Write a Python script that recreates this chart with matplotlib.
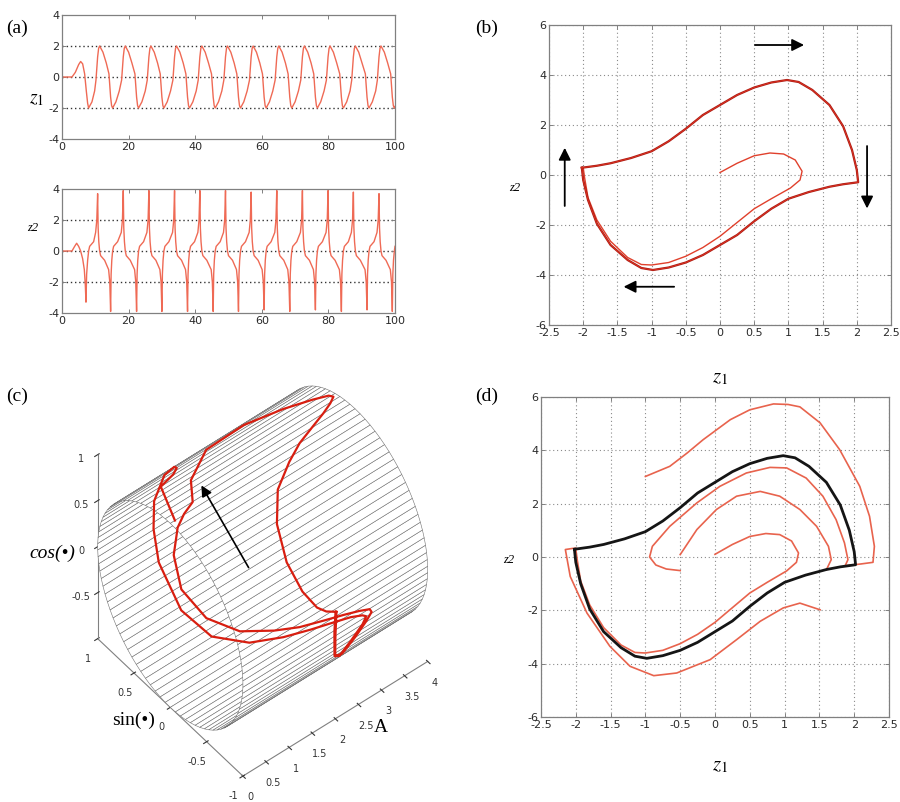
import numpy as np
import matplotlib
matplotlib.use("Agg")
import matplotlib.pyplot as plt
from mpl_toolkits.mplot3d import Axes3D  # noqa

plt.rcParams['mathtext.fontset'] = 'stix'
plt.rcParams['font.family'] = ['DejaVu Sans']
plt.rcParams['axes.unicode_minus'] = False

# ---------------- data: panel (a) time series ----------------
t_z1 = [0, 3.0, 4.0, 5.0, 5.6, 6.2, 6.8, 7.3, 7.7, 8.0,
        9.0, 9.8, 10.2, 10.7, 11.0, 11.3, 12.3, 13.3, 14.1, 14.6, 14.9, 15.2,
        16.2, 17.2, 17.9, 18.4, 18.7, 19.0, 20.0, 21.0, 21.9, 22.4, 22.7, 23.0,
        24.0, 25.0, 25.6, 26.1, 26.4, 26.7, 27.7, 28.7, 29.5, 30.0, 30.3, 30.6,
        31.6, 32.6, 33.3, 33.8, 34.1, 34.4, 35.4, 36.4, 37.2, 37.7, 38.0, 38.3,
        39.3, 40.3, 40.9, 41.4, 41.7, 42.0, 43.0, 44.0, 44.9, 45.4, 45.7, 46.0,
        47.0, 48.0, 48.6, 49.1, 49.4, 49.7, 50.7, 51.7, 52.5, 53.0, 53.3, 53.6,
        54.6, 55.6, 56.3, 56.8, 57.1, 57.4, 58.4, 59.4, 60.2, 60.7, 61.0, 61.3,
        62.3, 63.3, 64.0, 64.5, 64.8, 65.1, 66.1, 67.1, 67.9, 68.4, 68.7, 69.0,
        70.0, 71.0, 71.7, 72.2, 72.5, 72.8, 73.8, 74.8, 75.6, 76.1, 76.4, 76.7,
        77.7, 78.7, 79.4, 79.9, 80.2, 80.5, 81.5, 82.5, 83.4, 83.9, 84.2, 84.5,
        85.5, 86.5, 87.0, 87.5, 87.8, 88.1, 89.1, 90.1, 91.1, 91.6, 91.9, 92.2,
        93.2, 94.2, 94.7, 95.2, 95.5, 95.8, 96.8, 97.8, 98.7, 99.2, 99.5, 99.8, 100.0]
z1_series = [0, 0, 0.3, 0.8, 1.0, 0.85, 0.2, -0.9, -1.7, -2.0,
             -1.6, -0.9, -0.2, 1.3, 1.85, 2.0, 1.6, 0.9, 0.2, -1.3, -1.85, -2.0,
             -1.6, -0.9, -0.2, 1.3, 1.85, 2.0, 1.6, 0.9, 0.2, -1.3, -1.85, -2.0,
             -1.6, -0.9, -0.2, 1.3, 1.85, 2.0, 1.6, 0.9, 0.2, -1.3, -1.85, -2.0,
             -1.6, -0.9, -0.2, 1.3, 1.85, 2.0, 1.6, 0.9, 0.2, -1.3, -1.85, -2.0,
             -1.6, -0.9, -0.2, 1.3, 1.85, 2.0, 1.6, 0.9, 0.2, -1.3, -1.85, -2.0,
             -1.6, -0.9, -0.2, 1.3, 1.85, 2.0, 1.6, 0.9, 0.2, -1.3, -1.85, -2.0,
             -1.6, -0.9, -0.2, 1.3, 1.85, 2.0, 1.6, 0.9, 0.2, -1.3, -1.85, -2.0,
             -1.6, -0.9, -0.2, 1.3, 1.85, 2.0, 1.6, 0.9, 0.2, -1.3, -1.85, -2.0,
             -1.6, -0.9, -0.2, 1.3, 1.85, 2.0, 1.6, 0.9, 0.2, -1.3, -1.85, -2.0,
             -1.6, -0.9, -0.2, 1.3, 1.85, 2.0, 1.6, 0.9, 0.2, -1.3, -1.85, -2.0,
             -1.6, -0.9, -0.2, 1.3, 1.85, 2.0, 1.6, 0.9, 0.2, -1.3, -1.85, -2.0,
             -1.6, -0.9, -0.2, 1.3, 1.85, 2.0, 1.6, 0.9, 0.2, -1.3, -1.85, -2.0, -1.9]

t_z2 = [0, 3.0, 3.8, 4.4, 5.0, 5.6, 6.2, 6.7, 7.0, 7.2, 7.4, 7.7, 8.0,
        8.3, 9.5, 10.1, 10.45, 10.7, 10.85, 11.05, 11.3,
        11.6, 12.8, 14.0, 14.35, 14.6, 14.75, 14.95, 15.2,
        15.5, 16.7, 17.8, 18.15, 18.4, 18.55, 18.75, 19.0,
        19.3, 20.5, 21.8, 22.15, 22.4, 22.55, 22.75, 23.0,
        23.3, 24.5, 25.5, 25.85, 26.1, 26.25, 26.45, 26.7,
        27.0, 28.2, 29.4, 29.75, 30.0, 30.15, 30.35, 30.6,
        30.9, 32.1, 33.2, 33.55, 33.8, 33.95, 34.15, 34.4,
        34.7, 35.9, 37.1, 37.45, 37.7, 37.85, 38.05, 38.3,
        38.6, 39.8, 40.8, 41.15, 41.4, 41.55, 41.75, 42.0,
        42.3, 43.5, 44.8, 45.15, 45.4, 45.55, 45.75, 46.0,
        46.3, 47.5, 48.5, 48.85, 49.1, 49.25, 49.45, 49.7,
        50.0, 51.2, 52.4, 52.75, 53.0, 53.15, 53.35, 53.6,
        53.9, 55.1, 56.2, 56.55, 56.8, 56.95, 57.15, 57.4,
        57.7, 58.9, 60.1, 60.45, 60.7, 60.85, 61.05, 61.3,
        61.6, 62.8, 63.9, 64.25, 64.5, 64.65, 64.85, 65.1,
        65.4, 66.6, 67.8, 68.15, 68.4, 68.55, 68.75, 69.0,
        69.3, 70.5, 71.6, 71.95, 72.2, 72.35, 72.55, 72.8,
        73.1, 74.3, 75.5, 75.85, 76.1, 76.25, 76.45, 76.7,
        77.0, 78.2, 79.3, 79.65, 79.9, 80.05, 80.25, 80.5,
        80.8, 82.0, 83.3, 83.65, 83.9, 84.05, 84.25, 84.5,
        84.8, 86.0, 86.9, 87.25, 87.5, 87.65, 87.85, 88.1,
        88.4, 89.6, 91.0, 91.35, 91.6, 91.75, 91.95, 92.2,
        92.5, 93.7, 94.6, 94.95, 95.2, 95.35, 95.55, 95.8,
        96.1, 97.3, 98.6, 98.95, 99.2, 99.35, 99.55, 99.8, 100.0]
z2_series = [0, 0, 0.3, 0.5, 0.3, 0, -0.5, -1.2, -2.2, -3.3, -1.5, -0.6, 0,
             0.3, 0.6, 1.2, 2.0, 3.7, 1.5, 0.6, 0.0,
             -0.3, -0.6, -1.2, -2.0, -3.9, -1.5, -0.6, 0.0,
             0.3, 0.6, 1.2, 2.0, 3.9, 1.5, 0.6, 0.0,
             -0.3, -0.6, -1.2, -2.0, -3.9, -1.5, -0.6, 0.0,
             0.3, 0.6, 1.2, 2.0, 3.9, 1.5, 0.6, 0.0,
             -0.3, -0.6, -1.2, -2.0, -3.9, -1.5, -0.6, 0.0,
             0.3, 0.6, 1.2, 2.0, 3.9, 1.5, 0.6, 0.0,
             -0.3, -0.6, -1.2, -2.0, -3.9, -1.5, -0.6, 0.0,
             0.3, 0.6, 1.2, 2.0, 3.9, 1.5, 0.6, 0.0,
             -0.3, -0.6, -1.2, -2.0, -3.9, -1.5, -0.6, 0.0,
             0.3, 0.6, 1.2, 2.0, 3.9, 1.5, 0.6, 0.0,
             -0.3, -0.6, -1.2, -2.0, -3.9, -1.5, -0.6, 0.0,
             0.3, 0.6, 1.2, 2.0, 3.8, 1.5, 0.6, 0.0,
             -0.3, -0.6, -1.2, -2.0, -3.8, -1.5, -0.6, 0.0,
             0.3, 0.6, 1.2, 2.0, 3.9, 1.5, 0.6, 0.0,
             -0.3, -0.6, -1.2, -2.0, -3.9, -1.5, -0.6, 0.0,
             0.3, 0.6, 1.2, 2.0, 3.9, 1.5, 0.6, 0.0,
             -0.3, -0.6, -1.2, -2.0, -3.8, -1.5, -0.6, 0.0,
             0.3, 0.6, 1.2, 2.0, 3.9, 1.5, 0.6, 0.0,
             -0.3, -0.6, -1.2, -2.0, -3.9, -1.5, -0.6, 0.0,
             0.3, 0.6, 1.2, 2.0, 3.8, 1.5, 0.6, 0.0,
             -0.3, -0.6, -1.2, -2.0, -3.8, -1.5, -0.6, 0.0,
             0.3, 0.6, 1.2, 2.0, 3.7, 1.5, 0.6, 0.0,
             -0.3, -0.6, -1.2, -2.0, -3.9, -1.5, -0.6, 0.0, 0.3]

# ---------------- data: phase plane ----------------
cycle_z1 = [-2.02, -1.8, -1.6, -1.3, -1.0, -0.75, -0.5, -0.25, 0.0, 0.25, 0.5, 0.75, 0.98,
            1.15, 1.35, 1.6, 1.8, 1.93, 2.0, 2.02,
            1.8, 1.6, 1.3, 1.0, 0.75, 0.5, 0.25, 0.0, -0.25, -0.5, -0.75, -0.98,
            -1.15, -1.35, -1.6, -1.8, -1.93, -2.0, -2.02]
cycle_z2 = [0.29, 0.37, 0.47, 0.68, 0.95, 1.35, 1.85, 2.4, 2.8, 3.2, 3.5, 3.7, 3.8,
            3.72, 3.4, 2.8, 1.95, 1.0, 0.2, -0.29,
            -0.37, -0.47, -0.68, -0.95, -1.35, -1.85, -2.4, -2.8, -3.2, -3.5, -3.7, -3.8,
            -3.72, -3.4, -2.8, -1.95, -1.0, -0.2, 0.29]

trans_z1 = [0.0, 0.25, 0.5, 0.73, 0.93, 1.1, 1.2, 1.17, 1.03, 0.75, 0.5, 0.25, 0.0, -0.25,
            -0.5, -0.75, -1.0, -1.15, -1.35, -1.6, -1.8, -1.93, -1.98, -2.0]
trans_z2 = [0.1, 0.47, 0.77, 0.88, 0.84, 0.6, 0.15, -0.2, -0.52, -0.95, -1.35, -1.9, -2.45, -2.9,
            -3.25, -3.5, -3.6, -3.58, -3.3, -2.65, -1.8, -0.9, -0.1, 0.3]

# panel (d) additional trajectories
outer_a_z1 = [-1.0, -0.65, -0.4, -0.17, 0.22, 0.5, 0.84, 1.05, 1.22, 1.51, 1.79, 2.08, 2.22,
              2.29, 2.27, 2.1, 1.9]
outer_a_z2 = [3.02, 3.4, 3.9, 4.4, 5.15, 5.52, 5.74, 5.72, 5.63, 5.03, 4.03, 2.65, 1.53,
              0.4, -0.2, -0.26, -0.32]
outer_b_z1 = [1.51, 1.22, 0.98, 0.65, 0.31, -0.07, -0.55, -0.88, -1.22, -1.51, -1.84, -2.08,
              -2.15, -2.05, -2.0]
outer_b_z2 = [-1.98, -1.73, -1.91, -2.41, -3.1, -3.85, -4.35, -4.45, -4.1, -3.35, -2.1, -0.73,
              0.28, 0.32, 0.33]
mid_a_z1 = [-0.5, -0.7, -0.85, -0.94, -0.9, -0.65, -0.26, 0.07, 0.45, 0.79, 1.03, 1.31, 1.55,
            1.74, 1.86, 1.91, 1.87]
mid_a_z2 = [-0.51, -0.45, -0.3, 0.0, 0.4, 1.15, 2.03, 2.65, 3.15, 3.36, 3.34, 2.96, 2.28,
            1.4, 0.53, -0.1, -0.33]
mid_b_z1 = [-0.5, -0.26, 0.02, 0.31, 0.65, 0.93, 1.22, 1.46, 1.63, 1.67, 1.6]
mid_b_z2 = [0.09, 1.03, 1.78, 2.28, 2.46, 2.28, 1.78, 1.15, 0.4, -0.1, -0.48]

a_ticks = [0, 20, 40, 60, 80, 100]
a_yticks = [-4, -2, 0, 2, 4]
pp_xticks = [-2.5, -2, -1.5, -1, -0.5, 0, 0.5, 1, 1.5, 2, 2.5]
pp_xticklabels = ['-2.5', '-2', '-1.5', '-1', '-0.5', '0', '0.5', '1', '1.5', '2', '2.5']
pp_yticks = [-6, -4, -2, 0, 2, 4, 6]
pp_yticklabels = ['-6', '-4', '-2', '0', '2', '4', '6']
c_Aticks = [0, 0.5, 1, 1.5, 2, 2.5, 3, 3.5, 4]
c_Aticklabels = ['0', '0.5', '1', '1.5', '2', '2.5', '3', '3.5', '4']
c_sinticks = [-1, -0.5, 0, 0.5, 1]
c_sinticklabels = ['-1', '-0.5', '0', '0.5', '1']
c_costicks = [-0.5, 0, 0.5, 1]
c_costicklabels = ['-0.5', '0', '0.5', '1']

W, H = 900, 802
fig = plt.figure(figsize=(9, 8.02), dpi=100)

RED_A = '#ef6a55'
RED_D = '#e8634d'
TICKC = '#2a2a2a'


def rect(l, t, r, b):
    return [l / W, 1 - b / H, (r - l) / W, (b - t) / H]


def matlab_style(ax, fs=8):
    for s in ax.spines.values():
        s.set_color('#808080')
        s.set_linewidth(0.9)
    ax.tick_params(direction='in', length=3, width=0.7, top=True, right=True,
                   labelsize=fs, colors='#808080', labelcolor=TICKC, pad=2)


# ---- (a) top
ax1 = fig.add_axes(rect(62, 15, 395, 139))
ax1.plot(t_z1, z1_series, color=RED_A, lw=1.0)
for yv in (-2, 0, 2):
    ax1.axhline(yv, color='#333333', lw=1.0, ls=(0, (1, 2)), zorder=0)
ax1.set_xlim(0, 100)
ax1.set_ylim(-4, 4)
ax1.set_xticks(a_ticks)
ax1.set_yticks(a_yticks)
matlab_style(ax1)

# ---- (a) bottom
ax2 = fig.add_axes(rect(62, 189, 395, 313))
ax2.plot(t_z2, z2_series, color=RED_A, lw=1.0)
for yv in (-2, 0, 2):
    ax2.axhline(yv, color='#333333', lw=1.0, ls=(0, (1, 2)), zorder=0)
ax2.set_xlim(0, 100)
ax2.set_ylim(-4, 4)
ax2.set_xticks(a_ticks)
ax2.set_yticks(a_yticks)
matlab_style(ax2)


def phase_axes(r):
    ax = fig.add_axes(r)
    ax.set_xlim(-2.5, 2.5)
    ax.set_ylim(-6, 6)
    ax.set_xticks(pp_xticks)
    ax.set_xticklabels(pp_xticklabels)
    ax.set_yticks(pp_yticks)
    ax.set_yticklabels(pp_yticklabels)
    ax.grid(True, color='#8a8a8a', lw=0.8, ls=(0, (1, 2.5)))
    ax.set_axisbelow(True)
    matlab_style(ax)
    return ax


# ---- (b)
axb = phase_axes(rect(549, 25, 891, 325))
axb.plot(trans_z1, trans_z2, color='#e0402c', lw=1.0)
axb.plot(cycle_z1, cycle_z2, color='#a81c14', lw=1.6)
axb.plot(cycle_z1, cycle_z2, color='#e03222', lw=0.6)
arrow_kw = dict(arrowstyle='-|>', color='black', lw=1.3, mutation_scale=18)
axb.annotate('', xy=(1.27, 5.2), xytext=(0.47, 5.2), arrowprops=arrow_kw)
axb.annotate('', xy=(2.15, -1.45), xytext=(2.15, 1.27), arrowprops=arrow_kw)
axb.annotate('', xy=(-1.45, -4.47), xytext=(-0.63, -4.47), arrowprops=arrow_kw)
axb.annotate('', xy=(-2.27, 1.2), xytext=(-2.27, -1.35), arrowprops=arrow_kw)

# ---- (d)
axd = phase_axes(rect(541, 397, 889, 717))
for xs, ys in ((outer_a_z1, outer_a_z2), (outer_b_z1, outer_b_z2), (mid_a_z1, mid_a_z2),
               (mid_b_z1, mid_b_z2), (trans_z1, trans_z2)):
    axd.plot(xs, ys, color=RED_D, lw=1.2)
axd.plot(cycle_z1, cycle_z2, color='#151515', lw=2.0)

# ---- (c) 3D cylinder with trajectory
ELEV, AZIM = 50, -129
BOX = (1.03, 1.0, 1.24)
ax3 = fig.add_axes([0.025, 0.032, 0.521, 0.530], projection='3d', computed_zorder=False)
ax3.set_proj_type('ortho')
ax3.view_init(elev=ELEV, azim=AZIM)
ax3.set_box_aspect(BOX)
theta = np.linspace(0, 2 * np.pi, 91)
cyl_A = np.array([0.0, 4.0])
TH, AA = np.meshgrid(theta, cyl_A)
ax3.plot_surface(AA, np.sin(TH), np.cos(TH), color='white', edgecolor='#707070',
                 linewidth=0.4, shade=False, rstride=1, cstride=1, antialiased=True)

traj_z1 = np.array(trans_z1 + cycle_z1)
traj_z2 = np.array(trans_z2 + cycle_z2)
amp = np.hypot(traj_z1, traj_z2)
ax3.plot(amp, traj_z1 / amp, traj_z2 / amp, color='#d81e10', lw=1.6, zorder=10)

ax3.set_xlim(0, 4)
ax3.set_ylim(-1, 1)
ax3.set_zlim(-1, 1)
ax3.set_xticks(c_Aticks)
ax3.set_xticklabels(c_Aticklabels)
ax3.set_yticks(c_sinticks)
ax3.set_yticklabels(c_sinticklabels)
ax3.set_zticks(c_costicks)
ax3.set_zticklabels(c_costicklabels)
ax3.grid(False)
for axis in (ax3.xaxis, ax3.yaxis, ax3.zaxis):
    axis.set_pane_color((1, 1, 1, 0))
    axis.line.set_color('#808080')
    axis.line.set_linewidth(0.8)
ax3.tick_params(labelsize=7, colors='#333333', pad=0)

fig.add_artist(matplotlib.patches.FancyArrowPatch(
    (250 / W, 1 - 570 / H), (200 / W, 1 - 483 / H), transform=fig.transFigure,
    arrowstyle='-|>', color='black', lw=1.2, mutation_scale=16))

# ---------------- texts ----------------
serif = ['Liberation Serif', 'DejaVu Serif']
for lab, x, y in (('(a)', 6, 28), ('(b)', 475, 28), ('(c)', 6, 396), ('(d)', 475, 396)):
    fig.text(x / W, 1 - y / H, lab, family=serif, fontsize=14, va='center', ha='left')

Z1 = r'$z_{\mathit{1}}$'
fig.text(37 / W, 1 - 99 / H, Z1, fontsize=14, ha='center', va='center')
fig.text(33 / W, 1 - 228 / H, 'z2', family=serif, style='italic', fontsize=9,
         ha='center', va='center')
fig.text(515 / W, 1 - 188 / H, 'z2', family=serif, style='italic', fontsize=9,
         ha='center', va='center')
fig.text(509 / W, 1 - 560 / H, 'z2', family=serif, style='italic', fontsize=9,
         ha='center', va='center')
fig.text(720 / W, 1 - 377 / H, Z1, fontsize=15, ha='center', va='center')
fig.text(720 / W, 1 - 765 / H, Z1, fontsize=15, ha='center', va='center')
fig.text(52 / W, 1 - 553 / H, 'cos(•)', family=serif, style='italic', fontsize=14,
         ha='center', va='center')
fig.text(134 / W, 1 - 720 / H, 'sin(•)', family=serif, fontsize=14,
         ha='center', va='center')
fig.text(381 / W, 1 - 727 / H, 'A', family=serif, fontsize=14, ha='center', va='center')

fig.savefig('out.png', dpi=100)
